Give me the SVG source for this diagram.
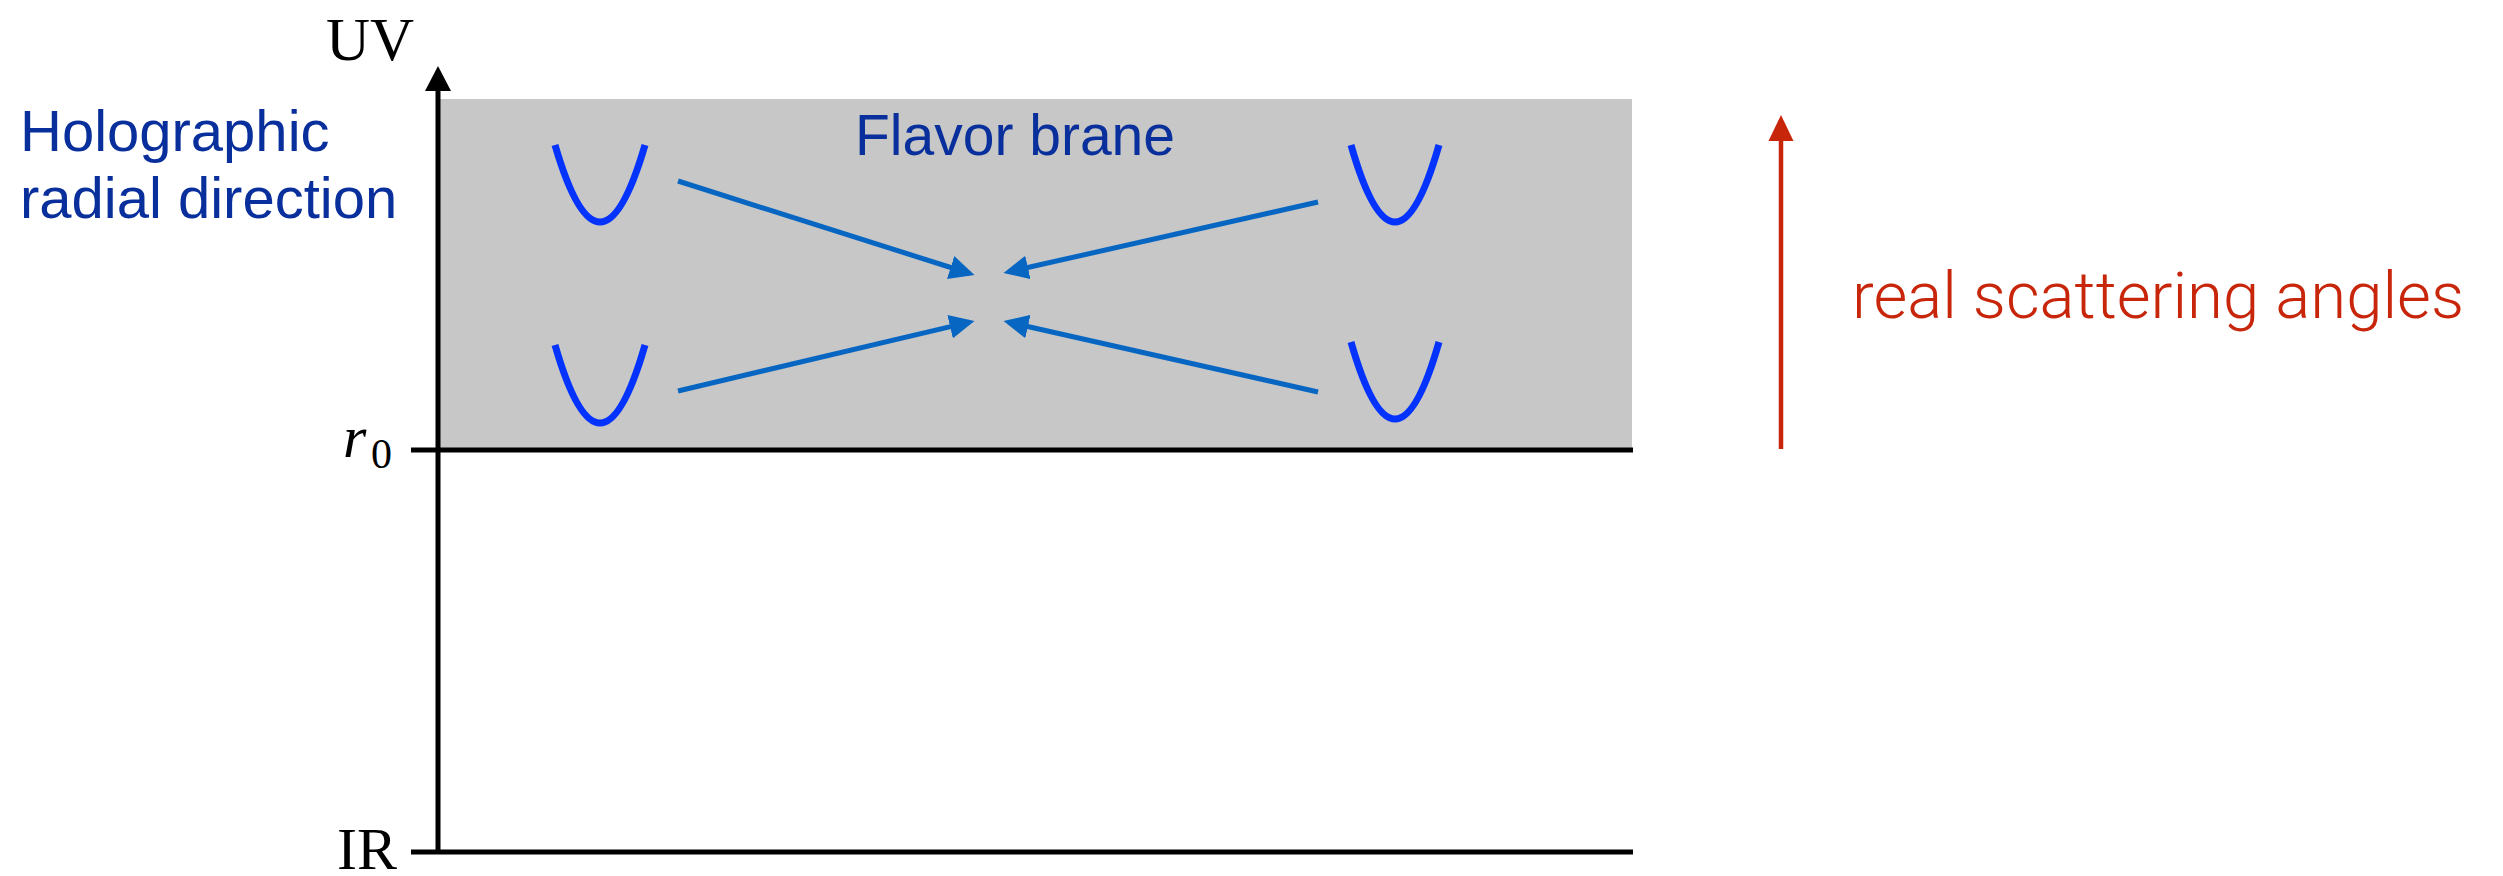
<svg xmlns="http://www.w3.org/2000/svg" width="2503" height="876" viewBox="0 0 2503 876">
<style>
.axis{stroke:#000;stroke-width:5;fill:none}
.serif{font-family:"Liberation Serif","DejaVu Serif",serif;fill:#000}
.lbl{font-family:"Liberation Sans",Arial,sans-serif;fill:#082f9b}
.u{fill:none;stroke:#0433ff;stroke-width:7;stroke-linecap:butt}
.arr{stroke:#0766c2;stroke-width:5;fill:none;marker-end:url(#ah)}
</style>
<defs>
<marker id="ah" viewBox="0 0 25 24" refX="20" refY="12" markerWidth="25" markerHeight="24" markerUnits="userSpaceOnUse" orient="auto">
<path d="M0,0 L25,12 L0,24 z" fill="#0766c2"/>
</marker>
</defs>
<rect width="2503" height="876" fill="#fff"/>
<g id="brane">
<rect x="437" y="99" width="1195" height="351" fill="#c7c7c7"/>
<text class="lbl" x="855" y="155" font-size="57">Flavor brane</text>
</g>
<g id="axes">
<line class="axis" x1="438" y1="854" x2="438" y2="88"/>
<polygon points="438,66 425,91 451,91" fill="#000"/>
<line class="axis" x1="411" y1="450" x2="1633" y2="450"/>
<line class="axis" x1="411" y1="852" x2="1633" y2="852"/>
<text class="serif" x="326" y="60" font-size="61">UV</text>
<text class="serif" x="343" y="457" font-size="60" font-style="italic">r</text>
<text class="serif" x="371" y="468" font-size="42">0</text>
<text class="serif" x="337" y="869" font-size="60">IR</text>
</g>
<g id="label-holo">
<text class="lbl" x="20" y="151" font-size="58">Holographic</text>
<text class="lbl" x="20" y="218" font-size="58">radial direction</text>
</g>
<g id="u-tl"><path class="u" d="M555,145 Q600,299 645,145"/></g>
<g id="u-bl"><path class="u" d="M555,345 Q600,501 645,345"/></g>
<g id="u-tr"><path class="u" d="M1351,145 Q1395,299 1439,145"/></g>
<g id="u-br"><path class="u" d="M1351,342 Q1395,496 1439,342"/></g>
<g id="connectors">
<line class="arr" x1="678" y1="181" x2="969.7" y2="273.5"/>
<line class="arr" x1="678" y1="391" x2="969.6" y2="322.1"/>
<line class="arr" x1="1318" y1="202" x2="1008.4" y2="271.9"/>
<line class="arr" x1="1318" y1="392" x2="1008.4" y2="322.1"/>
</g>
<g id="scatter">
<line x1="1781" y1="449" x2="1781" y2="138" stroke="#c8260b" stroke-width="4.5"/>
<polygon points="1781,115 1768.5,141 1793.5,141" fill="#c8260b"/>
<text x="1852" y="318" font-size="64" font-family="Roboto,'Liberation Sans',sans-serif" font-weight="300" textLength="612" lengthAdjust="spacingAndGlyphs" fill="#c8260b">real scattering angles</text>
</g>
</svg>
